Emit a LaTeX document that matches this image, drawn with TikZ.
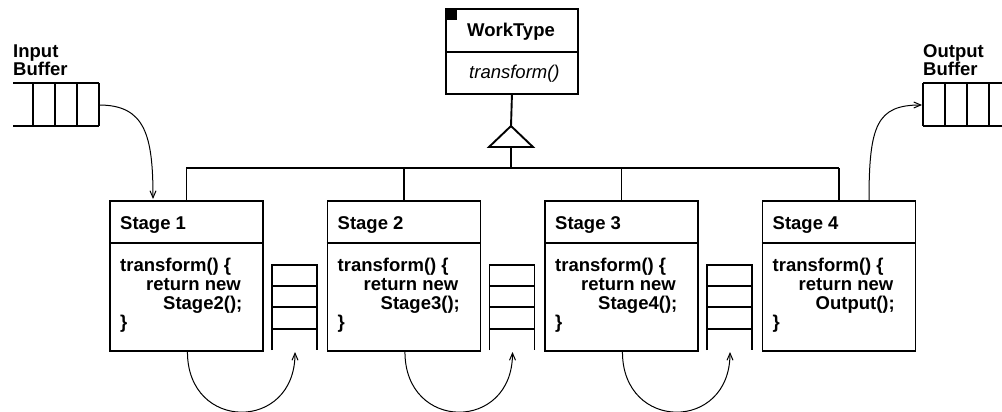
\documentclass[tikz,border=0pt]{standalone}
\usepackage{fontspec}
\setmainfont{Liberation Sans}
\usetikzlibrary{arrows.meta}
\begin{document}
\begin{tikzpicture}[x=1pt,y=-1pt,
  box/.style={draw,line width=1.9pt,minimum width=153pt,minimum height=150pt,anchor=north west,inner sep=0pt},
  wtbox/.style={draw,line width=1.9pt,minimum width=132pt,minimum height=85pt,anchor=north west,inner sep=0pt},
  lbl/.style={font=\fontsize{18.5}{19}\selectfont\bfseries,inner sep=0pt,anchor=base west},
  thk/.style={line width=1.9pt},
  conn/.style={line width=1pt,-{Straight Barb[length=7pt,width=6pt]}}]
\useasboundingbox (0,0) rectangle (1002,412);

% WorkType class
\node[wtbox] (wt) at (445,8) {};
\draw[thk] (445,52) -- (577,52);
\fill (445,8) rectangle (457,20);
\node[lbl,anchor=base] (wtn) at (511,37) {WorkType};
\node[lbl,anchor=base west,font=\fontsize{18.5}{19}\selectfont\itshape] (wtm) at (469,79) {transform()};

% inheritance triangle
\coordinate (apex) at (511,126);
\coordinate (tbase) at (511,147);
\draw[thk] (wt.south) -- (apex);
\draw[thk] (apex) -- (533,147) -- (489,147) -- cycle;

% stages
\foreach \i/\nx in {1/Stage2(),2/Stage3(),3/Stage4(),4/Output()} {
  \pgfmathsetmacro\bx{109+217.5*(\i-1)}
  \node[box] (s\i) at (\bx,200) {};
  \draw[thk] ([yshift=-43pt]s\i.north west) -- ([yshift=-43pt]s\i.north east);
  \node[lbl] (t\i) at (\bx+11,229) {Stage \i};
  \node[lbl] (a\i) at (\bx+11,271) {transform() \{};
  \node[lbl] (b\i) at (\bx+37,290) {return new};
  \node[lbl] (c\i) at (\bx+54,309) {\nx;};
  \node[lbl] (d\i) at (\bx+11,328) {\}};
  \draw[thk] (s\i.north) -- (s\i.north |- 0,168);
}
\draw[thk] (s1.north |- 0,168) -- (s4.north |- 0,168);
\draw[thk] (tbase) -- (tbase |- 0,168);

% inter-stage queues
\foreach \i in {1,2,3} {
  \pgfmathsetmacro\qx{272+217.5*(\i-1)}
  \draw[thk] (\qx,350) -- (\qx,265) -- (\qx+45,265) -- (\qx+45,350);
  \draw[thk] (\qx,286) -- (\qx+45,286);
  \draw[thk] (\qx,307) -- (\qx+45,307);
  \draw[thk] (\qx,329) -- (\qx+45,329);
  \coordinate (q\i) at (\qx+23,352);
}
\foreach \i/\j in {1/1,2/2,3/3} {
  \draw[conn] ([xshift=1pt]s\i.south) .. controls +(0,80) and +(0,80) .. (q\j);
}

% input buffer
\draw[thk] (13,83) -- (99,83);
\draw[thk] (13,126) -- (99,126);
\foreach \x in {33,55,77,99} \draw[thk] (\x,83) -- (\x,126);
\node[lbl] (inl1) at (13,58) {Input};
\node[lbl] (inl2) at (13,76) {Buffer};
\coordinate (inb) at (99,105);
\draw[conn] (inb) .. controls (145,105) and (153,135) .. ([xshift=44pt,yshift=1pt]s1.north west);

% output buffer
\draw[thk] (923,83) -- (1002,83);
\draw[thk] (923,126) -- (1002,126);
\foreach \x in {923,945,967,989} \draw[thk] (\x,83) -- (\x,126);
\node[lbl] (outl1) at (923,58) {Output};
\node[lbl] (outl2) at (923,76) {Buffer};
\coordinate (outb) at (922,105);
\draw[conn] ([xshift=107.5pt]s4.north west) .. controls +(0,-75) and +(-45,0) .. (outb);
\end{tikzpicture}
\end{document}
